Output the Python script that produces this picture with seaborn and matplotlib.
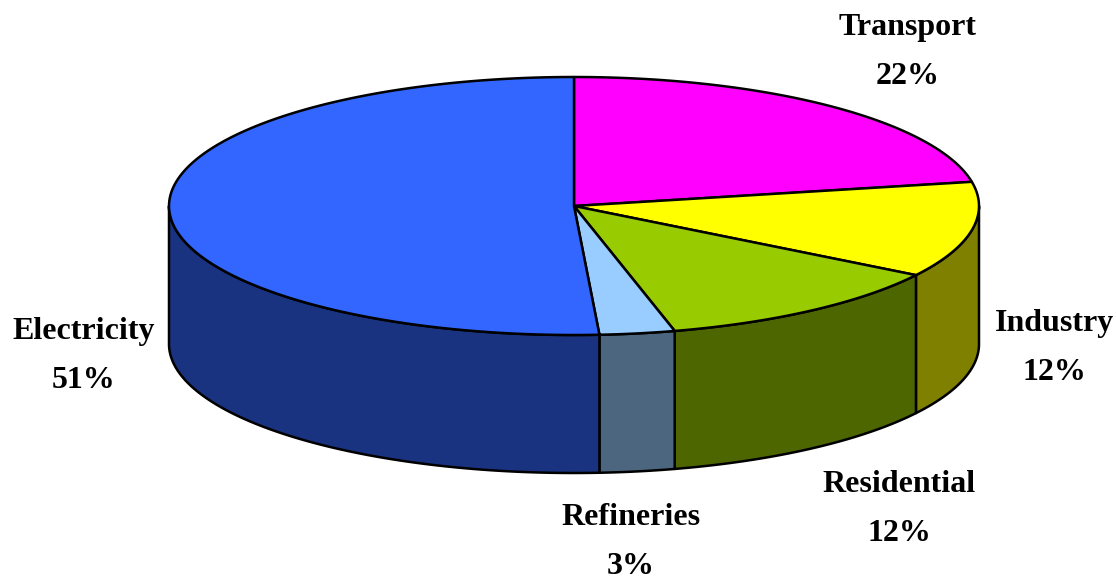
import numpy as np
import matplotlib
matplotlib.use("Agg")
import matplotlib.pyplot as plt
import seaborn as sns

# sectors, clockwise from 12 o'clock
sectors = ["Transport", "Industry", "Residential", "Refineries", "Electricity"]
shares = [22, 12, 12, 3, 51]
top_colors = ["#FF00FF", "#FFFF00", "#99CC00", "#99CCFF", "#3366FF"]
side_colors = ["#800080", "#808000", "#4D6600", "#4D6680", "#1A3380"]

# label centres in pixels
label_x = [908, 1054, 899, 631, 84]
label_y = [52, 348, 509, 542, 356]

# ellipse geometry in pixels
cx, cy = 574, 206
rx, ry = 405, 129
depth = 138

sns.set_theme(style="white")
plt.rcParams["font.family"] = ["Liberation Serif", "DejaVu Serif"]


def rim(a, b):
    # points on the top ellipse, angles clockwise from the top in degrees
    t = np.radians(np.linspace(a, b, 200))
    return cx + rx * np.sin(t), cy - ry * np.cos(t)


fig, ax = plt.subplots(figsize=(11.16, 5.81), dpi=100)
fig.subplots_adjust(0, 0, 1, 1)
ax.set_xlim(0, 1116)
ax.set_ylim(581, 0)
ax.axis("off")

edges = np.cumsum([0] + shares) / sum(shares) * 360

#%% side walls, only the front half of the rim shows
for i in range(len(shares)):
    a = max(edges[i], 90)
    b = min(edges[i + 1], 270)
    if a >= b:
        continue
    x, y = rim(a, b)
    ax.fill(np.r_[x, x[::-1]], np.r_[y, y[::-1] + depth],
            facecolor=side_colors[i], edgecolor="black", lw=1.8, joinstyle="round", zorder=2)

#%% top slices
for i in range(len(shares)):
    x, y = rim(edges[i], edges[i + 1])
    ax.fill(np.r_[cx, x], np.r_[cy, y],
            facecolor=top_colors[i], edgecolor="black", lw=1.8, joinstyle="round", zorder=3)

#%% labels
for i in range(len(shares)):
    ax.text(label_x[i], label_y[i], f"{sectors[i]}\n{shares[i]}%", ha="center", va="center",
            fontsize=23, fontweight="bold", color="black", linespacing=1.9)

fig.savefig("out.png", dpi=100)
